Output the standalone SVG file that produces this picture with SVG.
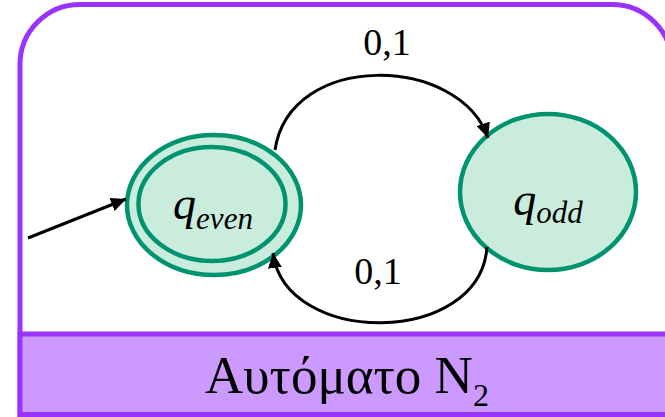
<svg xmlns="http://www.w3.org/2000/svg" width="665" height="417" viewBox="0 0 665 417">
  <style>
    .frame { fill: #ffffff; stroke: #9933ff; stroke-width: 5; }
    .band { fill: #cc99ff; stroke: #9933ff; stroke-width: 5; }
    .state { fill: #c9ecdc; stroke: #00936f; stroke-width: 4.5; }
    .edge { fill: none; stroke: #000000; stroke-width: 3; }
    .lbl { font-family: "Liberation Serif", "Times New Roman", serif; fill: #000000; }
    .st { font-family: "Liberation Serif", "Times New Roman", serif; font-style: italic; fill: #000000; }
  </style>
  <defs>
    <marker id="arrow" markerUnits="userSpaceOnUse" markerWidth="16" markerHeight="14" refX="15" refY="7" orient="auto">
      <path d="M0,0 L15,7 L0,14 z" fill="#000000"/>
    </marker>
  </defs>

  <g id="frame">
    <path class="frame" d="M20,414.5 L20,64.5 A60,60 0 0 1 80,4.5 L612,4.5 A60,60 0 0 1 672,64.5 L672,414.5 Z"/>
    <rect class="band" x="20" y="334" width="652" height="80.5"/>
    <text class="lbl" x="347" y="393" font-size="53" text-anchor="middle">Αυτόματο N<tspan font-size="32" dy="13">2</tspan></text>
  </g>

  <g id="q_even">
    <ellipse class="state" cx="214" cy="205" rx="87" ry="70"/>
    <ellipse class="state" cx="212" cy="204" rx="73.5" ry="57"/>
    <text class="st" x="213" y="219" font-size="46" text-anchor="middle">q<tspan font-size="31" dy="10">even</tspan></text>
  </g>

  <g id="q_odd">
    <ellipse class="state" cx="548" cy="192" rx="88" ry="78"/>
    <text class="st" x="548" y="215" font-size="46" text-anchor="middle">q<tspan font-size="31" dy="8">odd</tspan></text>
  </g>

  <g id="connectors">
    <path class="edge" d="M28,238 L126,199" marker-end="url(#arrow)"/>
    <path class="edge" d="M275,150 C290,50 460,55 488,138" marker-end="url(#arrow)"/>
    <path class="edge" d="M487,247 C480,347 285,347 273,253" marker-end="url(#arrow)"/>
    <text class="lbl" x="387" y="55" font-size="38" text-anchor="middle">0,1</text>
    <text class="lbl" x="378" y="284" font-size="38" text-anchor="middle">0,1</text>
  </g>
</svg>
